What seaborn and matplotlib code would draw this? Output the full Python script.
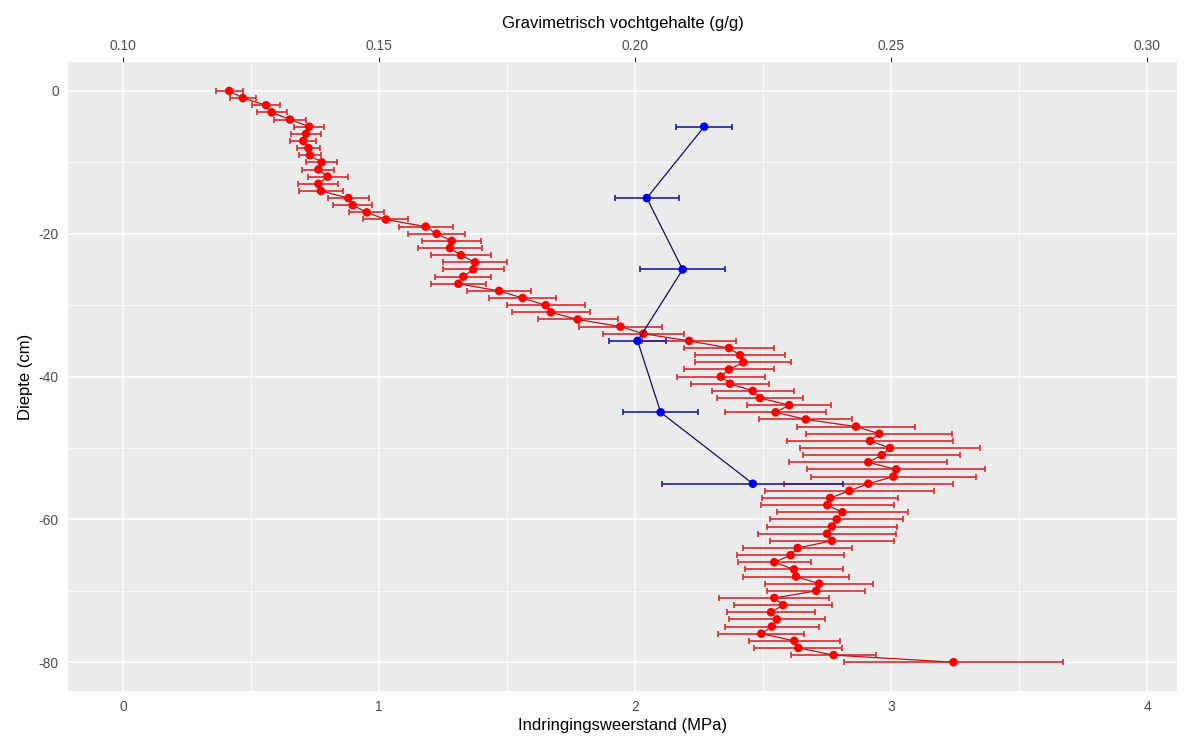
import numpy as np
import pandas as pd
import matplotlib
matplotlib.use("Agg")
import matplotlib.pyplot as plt
import seaborn as sns

# ---- data ----
red_depth = list(range(0, -81, -1))
red_mpa = [0.415, 0.468, 0.559, 0.581, 0.652, 0.727, 0.715, 0.704, 0.724, 0.730,
           0.776, 0.763, 0.799, 0.763, 0.773, 0.880, 0.897, 0.952, 1.027, 1.182,
           1.225, 1.284, 1.277, 1.320, 1.375, 1.368, 1.329, 1.310, 1.469, 1.561,
           1.651, 1.671, 1.776, 1.943, 2.033, 2.211, 2.367, 2.410, 2.423, 2.367,
           2.335, 2.371, 2.460, 2.488, 2.602, 2.549, 2.667, 2.863, 2.954, 2.918,
           2.996, 2.964, 2.911, 3.020, 3.009, 2.911, 2.837, 2.762, 2.751, 2.810,
           2.788, 2.769, 2.750, 2.769, 2.635, 2.608, 2.544, 2.621, 2.629, 2.719,
           2.708, 2.544, 2.578, 2.531, 2.554, 2.534, 2.493, 2.622, 2.638, 2.776,
           3.244]
red_err = [0.053, 0.051, 0.055, 0.059, 0.061, 0.059, 0.060, 0.051, 0.044, 0.044,
           0.060, 0.063, 0.078, 0.078, 0.086, 0.080, 0.075, 0.069, 0.088, 0.105,
           0.112, 0.115, 0.124, 0.116, 0.124, 0.120, 0.109, 0.107, 0.125, 0.132,
           0.153, 0.153, 0.156, 0.161, 0.158, 0.182, 0.174, 0.177, 0.187, 0.174,
           0.171, 0.153, 0.160, 0.167, 0.163, 0.197, 0.182, 0.230, 0.286, 0.324,
           0.352, 0.306, 0.309, 0.348, 0.323, 0.330, 0.329, 0.265, 0.260, 0.257,
           0.259, 0.254, 0.269, 0.241, 0.214, 0.210, 0.143, 0.190, 0.206, 0.210,
           0.191, 0.215, 0.191, 0.170, 0.188, 0.184, 0.168, 0.178, 0.172, 0.166,
           0.426]

blue_depth = [-5, -15, -25, -35, -45, -55]
blue_gg = [0.2135, 0.2023, 0.2093, 0.2005, 0.2050, 0.2230]
blue_err = [0.0055, 0.0062, 0.0083, 0.0055, 0.0073, 0.0177]

x_ticks = [0, 1, 2, 3, 4]
top_ticks = [0.10, 0.15, 0.20, 0.25, 0.30]
y_ticks = [0, -20, -40, -60, -80]


def gg_to_mpa(g):
    return (np.asarray(g) - 0.10) * 20.0


def mpa_to_gg(m):
    return 0.10 + np.asarray(m) * 0.05


red_df = pd.DataFrame({"depth": red_depth, "mpa": red_mpa, "err": red_err})
blue_df = pd.DataFrame({"depth": blue_depth, "gg": blue_gg, "err": blue_err})
blue_df["mpa"] = gg_to_mpa(blue_df["gg"])
blue_df["err_mpa"] = blue_df["err"] * 20.0

# ---- style ----
sns.set_theme(style="darkgrid", rc={
    "axes.facecolor": "#EBEBEB",
    "grid.color": "white",
    "axes.edgecolor": "#EBEBEB",
})
plt.rcParams["font.family"] = ["Liberation Sans", "DejaVu Sans"]
plt.rcParams["axes.unicode_minus"] = False

fig, ax = plt.subplots(figsize=(11.94, 7.51), dpi=100)
fig.subplots_adjust(left=68 / 1194, right=1177 / 1194, top=1 - 62.4 / 751, bottom=1 - 690.8 / 751)

# red series
ax.errorbar(red_df["mpa"], red_df["depth"], xerr=red_df["err"], fmt="none",
            ecolor="#DA2A2E", elinewidth=1.2, capsize=2.5, capthick=1.2, zorder=2)
sns.lineplot(data=red_df, x="mpa", y="depth", sort=False, estimator=None,
             color="#C0141A", linewidth=0.9, ax=ax, zorder=3)
sns.scatterplot(data=red_df, x="mpa", y="depth", color="#FF0000", s=38,
                edgecolor="none", ax=ax, zorder=4)

# blue series
ax.errorbar(blue_df["mpa"], blue_df["depth"], xerr=blue_df["err_mpa"], fmt="none",
            ecolor="#1F1F9E", elinewidth=1.2, capsize=2.5, capthick=1.2, zorder=5)
sns.lineplot(data=blue_df, x="mpa", y="depth", sort=False, estimator=None,
             color="#10105E", linewidth=0.9, ax=ax, zorder=6)
sns.scatterplot(data=blue_df, x="mpa", y="depth", color="#0000F0", s=38,
                edgecolor="none", ax=ax, zorder=7)

ax.set_xticks(x_ticks)
ax.set_yticks(y_ticks)
ax.set_xticks([0.5, 1.5, 2.5, 3.5], minor=True)
ax.set_yticks([-10, -30, -50, -70], minor=True)
ax.set_xlim(-0.215, 4.117)
ax.set_ylim(-84, 4)
ax.grid(which="major", color="white", linewidth=1.1)
ax.grid(which="minor", color="white", linewidth=0.55)
ax.set_axisbelow(True)

ax.tick_params(axis="both", which="major", labelcolor="#4D4D4D", labelsize=10,
               length=3.5, width=0.8, color="#333333", pad=3)
ax.tick_params(axis="both", which="minor", length=0)
for s in ax.spines.values():
    s.set_visible(False)

ax.set_xlabel("Indringingsweerstand (MPa)", fontsize=12, color="black", labelpad=3)
ax.set_ylabel("Diepte (cm)", fontsize=12, color="black", labelpad=4)

sec = ax.secondary_xaxis("top", functions=(mpa_to_gg, gg_to_mpa))
sec.set_xticks(top_ticks)
sec.set_xticklabels([f"{t:.2f}" for t in top_ticks])
sec.tick_params(axis="x", labelcolor="#4D4D4D", labelsize=10, length=3.5,
                width=0.8, color="#333333", pad=3)
sec.spines["top"].set_visible(False)
sec.set_xlabel("Gravimetrisch vochtgehalte (g/g)", fontsize=12, color="black", labelpad=8)

fig.savefig("out.png", dpi=100, facecolor="white")
